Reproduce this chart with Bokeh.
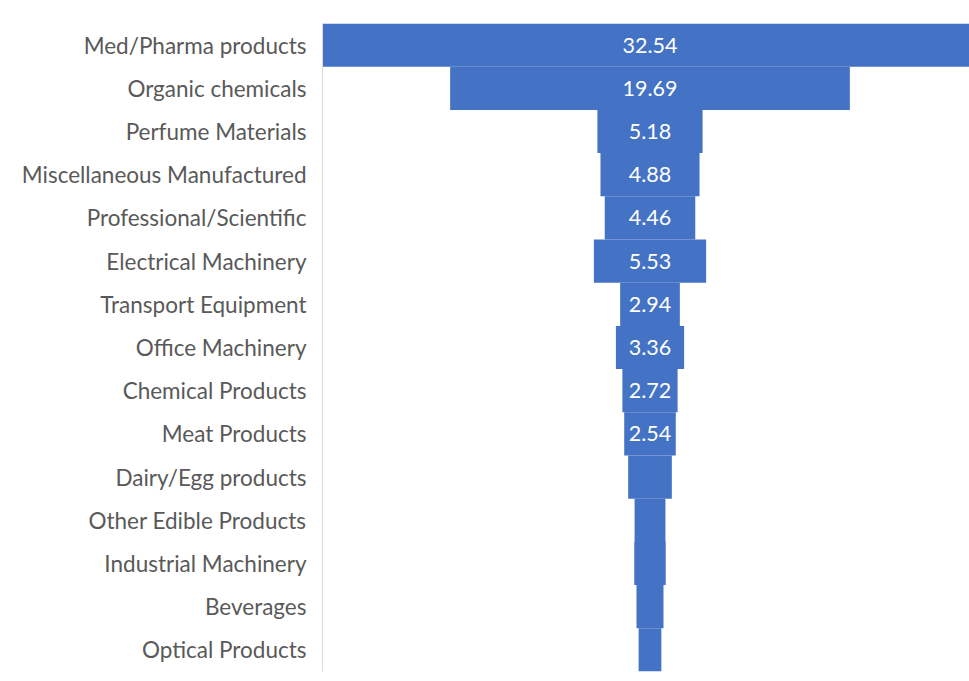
from bokeh.plotting import figure
from bokeh.models import ColumnDataSource, Range1d, FactorRange
from bokeh.embed import file_html
from bokeh.resources import INLINE
from bokeh.core.properties import value

categories = ["Med/Pharma products", "Organic chemicals", "Perfume Materials",
              "Miscellaneous Manufactured", "Professional/Scientific", "Electrical Machinery",
              "Transport Equipment", "Office Machinery", "Chemical Products", "Meat Products",
              "Dairy/Egg products", "Other Edible Products", "Industrial Machinery",
              "Beverages", "Optical Products"]
values = [32.54, 19.69, 5.18, 4.88, 4.46, 5.53, 2.94, 3.36, 2.72, 2.54,
          2.15, 1.52, 1.55, 1.33, 1.12]
shown_labels = [f"{v:.2f}" if v >= 2.5 else "" for v in values]

src = ColumnDataSource(dict(
    cat=categories,
    left=[-v / 2 for v in values],
    right=[v / 2 for v in values],
    lab=shown_labels,
    x0=[0] * len(values),
))

W, H = 969, 681
scale = 20.3
frame_left = 322
center_off = 327.5
frame_w = W - frame_left
xmin = -center_off / scale
xmax = (frame_w - center_off) / scale

p = figure(width=W, height=H, output_backend="svg", toolbar_location=None,
           y_range=FactorRange(*list(reversed(categories)), range_padding=0),
           x_range=Range1d(xmin, xmax))
p.min_border_left = frame_left
p.min_border_right = 0
p.min_border_top = 23
p.min_border_bottom = 10
p.outline_line_color = None
p.xgrid.visible = False
p.ygrid.visible = False
p.xaxis.visible = False

p.hbar(y="cat", left="left", right="right", height=1.0, source=src,
       fill_color="#4472C4", line_color=None)
p.text(x="x0", y="cat", text="lab", source=src, text_color="white",
       text_font=value("Lato"), text_font_size="21.5px",
       text_align="center", text_baseline="middle")

ax = p.yaxis[0]
ax.axis_line_color = "#d9d9d9"
ax.axis_line_width = 1
ax.major_tick_line_color = None
ax.minor_tick_line_color = None
ax.major_label_standoff = 10
ax.major_label_text_font = "Lato"
ax.major_label_text_font_size = "22.5px"
ax.major_label_text_color = "#595959"

open("out.html", "w").write(file_html(p, INLINE))
